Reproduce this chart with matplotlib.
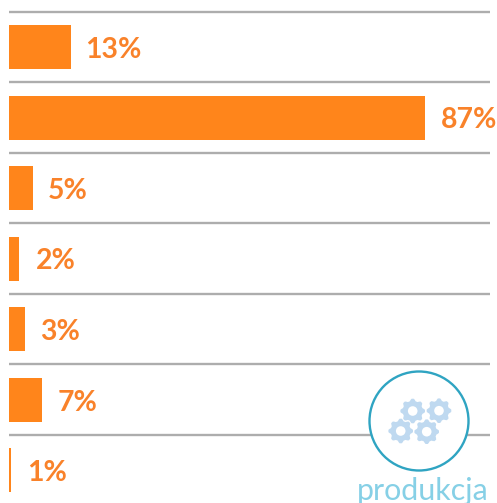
import numpy as np
import matplotlib
matplotlib.use("Agg")
import matplotlib.pyplot as plt
from matplotlib.patches import Circle, Polygon

labels = ["13%", "87%", "5%", "2%", "3%", "7%", "1%"]
values = [13, 87, 5, 2, 3.4, 7, 0.4]
label_ends = [12.6, 87, 4.9, 2.4, 3.3, 6.9, 0.4]
caption = "produkcja"

W, H = 497, 503
fig = plt.figure(figsize=(W/100, H/100), dpi=100)
ax = fig.add_axes([0, 0, 1, 1])
sc = 4.78
row = 70.55
top = 47
ax.set_xlim(-9/sc, (W-9)/sc)
ax.set_ylim((H-top)/row, -top/row)
ax.axis("off")

y = np.arange(len(values))
ax.hlines(y-0.5, 0, (490-9)/sc, color="#adadad", lw=1.7, zorder=1)
ax.barh(y, values, height=44/row, color="#ff851b", zorder=2)
for yi, v, t in zip(y, label_ends, labels):
    ax.text(v+3.3, yi+0.04, t, color="#f9822a", fontsize=20.4, fontweight="bold",
            family="Lato", va="center", ha="left", zorder=3)

# icon overlay in pixel coordinates
ov = fig.add_axes([0, 0, 1, 1])
ov.set_xlim(0, W); ov.set_ylim(H, 0); ov.axis("off"); ov.patch.set_alpha(0)
ov.add_patch(Circle((419, 421), 49.5, fc="white", ec="#2fa4c2", lw=1.7))

def gear(cx, cy, r=12.3, n=8):
    a = np.linspace(0, 2*np.pi, n*8, endpoint=False)
    rad = r*(0.91+0.09*np.clip(2.2*np.cos(n*a), -1, 1))
    ov.add_patch(Polygon(np.c_[cx+rad*np.cos(a), cy+rad*np.sin(a)], fc="#bfd9f0", ec="none"))
    ov.add_patch(Circle((cx, cy), 4.8, fc="white", ec="none"))

for c in [(412.7, 411), (439, 410.7), (400.7, 431), (426.7, 431.7)]:
    gear(*c)
ov.text(422.5, 491, caption, color="#86d0e6", fontsize=21.9, family="Lato",
        ha="center", va="center")

fig.savefig("out.png", dpi=100)
